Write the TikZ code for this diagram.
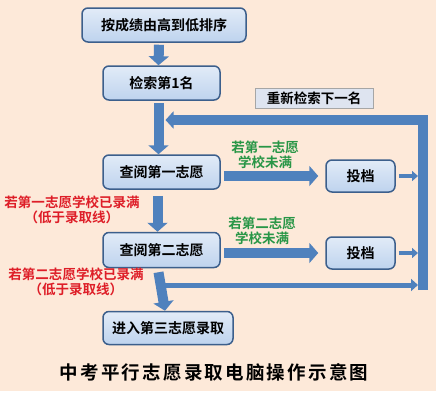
\documentclass[tikz,border=0pt]{standalone}
\usepackage{fontspec}
\setmainfont{Noto Sans CJK SC}[BoldFont={Noto Sans CJK SC Bold}]
\usetikzlibrary{arrows.meta, positioning, calc}

\definecolor{bgpeach}{RGB}{253,233,217}
\definecolor{boxfill}{RGB}{190,211,238}
\definecolor{boxline}{RGB}{60,95,140}
\definecolor{flowblue}{RGB}{79,129,189}
\definecolor{labelgreen}{RGB}{40,150,70}
\definecolor{labelred}{RGB}{222,30,40}
\definecolor{tagfill}{RGB}{222,228,240}

\tikzset{
  stepbox/.style={draw=boxline, line width=1.5pt, rounded corners=6pt,
    top color=boxfill!45!white, bottom color=boxfill, minimum height=34pt,
    inner sep=2pt, font=\fontsize{14}{16}\selectfont\bfseries},
  bigarrow/.style={draw=flowblue, line width=10pt,
    -{Triangle[width=20pt,length=9pt]}},
  thinarrow/.style={draw=flowblue, line width=5pt,
    -{Triangle[width=12pt,length=7pt]}},
  tinyarrow/.style={draw=flowblue, line width=4pt,
    -{Triangle[width=10pt,length=6pt]}},
  cond/.style={align=center, font=\fontsize{13.5}{15.5}\selectfont\bfseries},
}

\begin{document}
\begin{tikzpicture}[x=1pt, y=-1pt]
% background
\fill[bgpeach] (0,0) rectangle (436,391);
\fill[white] (0,391) rectangle (436,400);
\useasboundingbox (0,0) rectangle (436,400);

% main steps
\node[stepbox, minimum width=164pt] (sort) at (164,25) {按成绩由高到低排序};
\node[stepbox, minimum width=117pt] (first) at (161.5,83) {检索第1名};
\node[stepbox, minimum width=117pt] (wish1) at (161.5,172) {查阅第一志愿};
\node[stepbox, minimum width=117pt, minimum height=35pt] (wish2) at (161.5,250) {查阅第二志愿};
\node[stepbox, minimum width=130pt, minimum height=33pt] (wish3) at (168,328) {进入第三志愿录取};

% filing boxes
\node[stepbox, minimum width=69pt, minimum height=32pt] (file1) at (360.5,176) {投档};
\node[stepbox, minimum width=69pt, minimum height=32pt] (file2) at (360.5,253) {投档};

% loop tag
\node[draw=gray!70, line width=1pt, fill=tagfill, minimum width=118pt, minimum height=20pt,
  inner sep=2pt, font=\fontsize{13.5}{15}\selectfont\bfseries] (next) at (314,98) {重新检索下一名};

% conditions
\node[cond, text=labelgreen] (ok1) at (265,155) {若第一志愿\\学校未满};
\node[cond, text=labelgreen] (ok2) at (262,231) {若第二志愿\\学校未满};
\node[cond, text=labelred] (full1) at (72,210) {若第一志愿学校已录满\\（低于录取线）};
\node[cond, text=labelred] (full2) at (76,282) {若第二志愿学校已录满\\（低于录取线）};

% loop coordinates
\coordinate (loopTop) at (423,120);
\coordinate (loopBot) at (423,290);
\coordinate (barIn) at (418,285);

% downward flow
\draw[bigarrow] ([xshift=-5pt]sort.south |- sort.south) ++(0,2) -- ([xshift=-3pt]first.north);
\draw[bigarrow] (first.south) ++(-3,2) coordinate (shaftTop) -- ([xshift=-3pt]wish1.north);
\draw[bigarrow] ([xshift=-4pt]wish1.south) ++(0,6) -- ([xshift=-4pt]wish2.north);
\draw[bigarrow] ([xshift=-3pt]wish2.south) ++(0,4) -- ([xshift=-3pt]wish3.north);

% to filing
\draw[bigarrow] ([xshift=3pt]wish1.east |- file1) -- ([xshift=-7pt]file1.west);
\draw[bigarrow] ([xshift=3pt]wish2.east |- file2) -- ([xshift=-7pt]file2.west);
\draw[tinyarrow] ([xshift=3pt]file1.east) -- (file1.east -| barIn);
\draw[tinyarrow] ([xshift=3pt]file2.east) -- (file2.east -| barIn);
\draw[thinarrow] ([xshift=2pt]wish2.south |- barIn) -- (barIn);

% feedback loop
\draw[draw=flowblue, line width=10pt, line join=miter, -{Triangle[width=17pt,length=8pt]}]
  (loopBot) -- (loopTop) -- ([xshift=7pt]shaftTop |- loopTop);

% title
\node[font=\fontsize{18.5}{20}\selectfont\bfseries\addfontfeature{LetterSpace=12}] (title) at (214,372)
  {中考平行志愿录取电脑操作示意图};
\end{tikzpicture}
\end{document}
